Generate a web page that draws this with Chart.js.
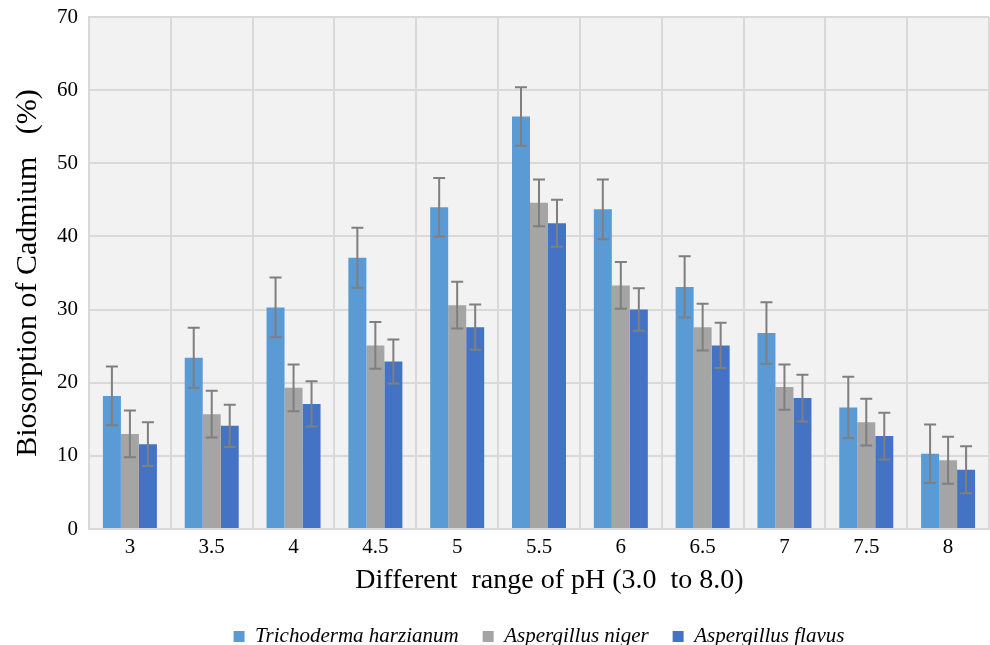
<!DOCTYPE html>
<html>
<head>
<meta charset="utf-8">
<script src="https://cdn.jsdelivr.net/npm/chart.js@4/dist/chart.umd.min.js"></script>
<style>
  html, body { margin: 0; padding: 0; background: #ffffff; }
  #wrap { width: 990px; height: 645px; position: relative; }
</style>
</head>
<body>
<div id="wrap"><canvas id="c" width="990" height="645"></canvas></div>
<script>
const categories = ['3', '3.5', '4', '4.5', '5', '5.5', '6', '6.5', '7', '7.5', '8'];
const trichoderma = [18.2, 23.4, 30.3, 37.1, 44.0, 56.4, 43.7, 33.1, 26.8, 16.6, 10.3];
const niger       = [13.0, 15.7, 19.3, 25.1, 30.6, 44.6, 33.3, 27.6, 19.4, 14.6, 9.4];
const flavus      = [11.6, 14.1, 17.1, 22.9, 27.6, 41.8, 30.0, 25.1, 17.9, 12.7, 8.1];
const errTrichoderma = [4.0, 4.1, 4.1, 4.1, 4.0, 4.0, 4.1, 4.2, 4.2, 4.2, 4.0];
const errNiger       = [3.2, 3.2, 3.2, 3.2, 3.2, 3.2, 3.2, 3.2, 3.1, 3.2, 3.2];
const errFlavus      = [3.0, 2.9, 3.1, 3.0, 3.1, 3.2, 2.9, 3.1, 3.2, 3.2, 3.2];
const seriesNames = ['Trichoderma harzianum', 'Aspergillus niger', 'Aspergillus flavus'];
const yTicks = [0, 10, 20, 30, 40, 50, 60, 70];

const SERIF = '"Liberation Serif", "Times New Roman", serif';

const plotBg = {
  id: 'plotBg',
  beforeDraw(chart) {
    const { ctx, chartArea: a } = chart;
    ctx.save();
    ctx.fillStyle = '#f2f2f2';
    ctx.fillRect(a.left, a.top, a.right - a.left, a.bottom - a.top);
    ctx.restore();
  }
};

const errorBars = {
  id: 'errorBars',
  afterDatasetsDraw(chart) {
    const { ctx } = chart;
    const yScale = chart.scales.y;
    ctx.save();
    ctx.strokeStyle = '#7f7f7f';
    ctx.lineWidth = 2;
    chart.data.datasets.forEach((ds, di) => {
      const meta = chart.getDatasetMeta(di);
      meta.data.forEach((bar, i) => {
        const v = ds.data[i], e = ds.errors[i];
        const yt = yScale.getPixelForValue(v + e);
        const yb = yScale.getPixelForValue(v - e);
        const x = bar.x;
        ctx.beginPath();
        ctx.moveTo(x, yt); ctx.lineTo(x, yb);
        ctx.moveTo(x - 6, yt); ctx.lineTo(x + 6, yt);
        ctx.moveTo(x - 6, yb); ctx.lineTo(x + 6, yb);
        ctx.stroke();
      });
    });
    ctx.restore();
  }
};

new Chart(document.getElementById('c'), {
  type: 'bar',
  data: {
    labels: categories,
    datasets: [
      { label: seriesNames[0], data: trichoderma, errors: errTrichoderma, backgroundColor: '#5b9bd5' },
      { label: seriesNames[1], data: niger, errors: errNiger, backgroundColor: '#a5a5a5' },
      { label: seriesNames[2], data: flavus, errors: errFlavus, backgroundColor: '#4472c4' }
    ]
  },
  options: {
    responsive: false,
    animation: false,
    devicePixelRatio: 1,
    categoryPercentage: 0.66,
    barPercentage: 1.0,
    layout: { padding: { left: 0, top: 17, right: 1, bottom: -12 } },
    plugins: {
      tooltip: { enabled: false },
      legend: {
        position: 'bottom',
        fullSize: false,
        labels: {
          font: { family: SERIF, size: 21, style: 'italic' },
          color: '#000000',
          boxWidth: 11,
          boxHeight: 11,
          padding: 24
        }
      }
    },
    scales: {
      x: {
        grid: { color: '#d9d9d9', lineWidth: 2, drawTicks: false, offset: true },
        border: { color: '#d9d9d9', width: 2 },
        ticks: { font: { family: SERIF, size: 21 }, color: '#000000', padding: 6 },
        title: {
          display: true,
          text: '   Different  range of pH (3.0  to 8.0)',
          font: { family: SERIF, size: 28 },
          color: '#000000',
          padding: { top: 0, bottom: 5 }
        },
        afterFit(scale) { scale.height = 73; }
      },
      y: {
        min: 0, max: 70,
        afterBuildTicks(scale) { scale.ticks = yTicks.map(v => ({ value: v })); },
        grid: { color: '#d9d9d9', lineWidth: 2, drawTicks: false },
        border: { color: '#d9d9d9', width: 2 },
        ticks: { font: { family: SERIF, size: 21, lineHeight: 0.5 }, color: '#000000', padding: 11 },
        title: {
          display: true,
          text: 'Biosorption of Cadmium   (%)',
          font: { family: SERIF, size: 30 },
          color: '#000000',
          padding: { top: 10, bottom: 0 }
        },
        afterFit(scale) { scale.width = 89; }
      }
    }
  },
  plugins: [plotBg, errorBars]
});
</script>
</body>
</html>
